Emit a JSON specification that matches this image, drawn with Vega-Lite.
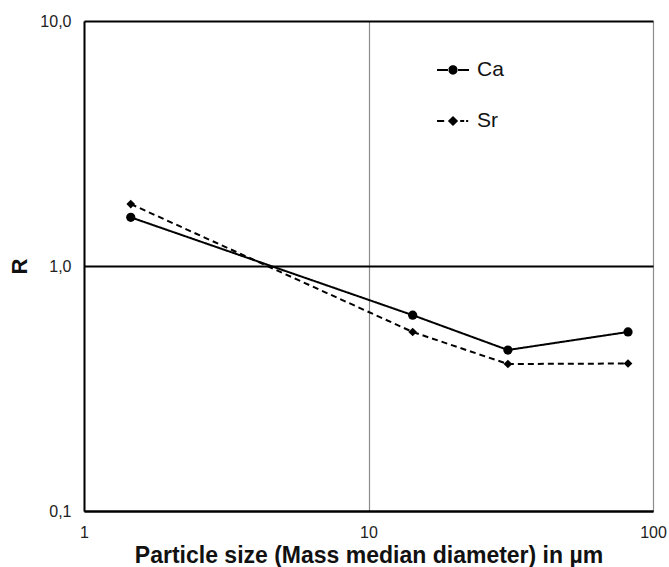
{
  "$schema": "https://vega.github.io/schema/vega-lite/v6.json",
  "width": 569,
  "height": 490,
  "autosize": {"type": "none"},
  "padding": {"left": 84, "top": 21, "right": 16, "bottom": 56},
  "background": "white",
  "config": {
    "font": "Liberation Sans",
    "view": {"stroke": null},
    "axis": {"ticks": false, "labelFont": "Liberation Sans", "labelColor": "#222", "titleFont": "Liberation Sans", "titleColor": "#111"},
    "legend": {"labelFont": "Liberation Sans", "labelColor": "#111"}
  },
  "data": {
    "values": [
      {"series": "Ca", "size": 1.46, "R": 1.58},
      {"series": "Ca", "size": 14.3, "R": 0.63},
      {"series": "Ca", "size": 30.9, "R": 0.454},
      {"series": "Ca", "size": 81.7, "R": 0.538},
      {"series": "Sr", "size": 1.46, "R": 1.79},
      {"series": "Sr", "size": 14.3, "R": 0.538},
      {"series": "Sr", "size": 30.9, "R": 0.398},
      {"series": "Sr", "size": 81.7, "R": 0.4}
    ]
  },
  "encoding": {
    "x": {
      "field": "size", "type": "quantitative",
      "scale": {"type": "log", "domain": [1, 100], "nice": false},
      "axis": {
        "values": [1, 10, 100], "grid": true, "gridColor": "#8c8c8c", "gridWidth": 1.2,
        "domainColor": "#000", "domainWidth": 2, "labelFontSize": 16, "labelPadding": 13,
        "labelFlush": false,
        "title": "Particle size (Mass median diameter) in µm", "titleFontSize": 23, "titleFontWeight": "bold", "titlePadding": 4
      }
    },
    "y": {
      "field": "R", "type": "quantitative",
      "scale": {"type": "log", "domain": [0.1, 10], "nice": false},
      "axis": {
        "values": [0.1, 1, 10], "grid": true, "gridColor": "#000", "gridWidth": 2,
        "domainColor": "#000", "domainWidth": 2, "labelFontSize": 16, "labelPadding": 13,
        "labelExpr": "replace(format(datum.value, '.1f'), '.', ',')",
        "title": "R", "titleFontSize": 22, "titleFontWeight": "bold", "titlePadding": 8
      }
    }
  },
  "layer": [
    {
      "mark": {"type": "line", "color": "#000", "strokeWidth": 2},
      "encoding": {
        "strokeDash": {
          "field": "series", "type": "nominal",
          "scale": {"domain": ["Ca", "Sr"], "range": [[1, 0], [6, 4]]},
          "legend": null
        }
      }
    },
    {
      "mark": {"type": "point", "filled": true, "color": "#000", "opacity": 1},
      "encoding": {
        "shape": {
          "field": "series", "type": "nominal",
          "scale": {"domain": ["Ca", "Sr"], "range": ["circle", "diamond"]},
          "legend": null
        },
        "size": {
          "field": "series", "type": "nominal",
          "scale": {"domain": ["Ca", "Sr"], "range": [85, 75]},
          "legend": null
        }
      }
    },
    {
      "mark": {"type": "point", "filled": true, "color": "#000", "opacity": 0, "size": 1024},
      "encoding": {
        "shape": {
          "field": "series", "type": "nominal", "title": null,
          "scale": {
            "domain": ["Ca", "Sr"],
            "range": [
              "M-1,-0.06L-0.25,-0.06L-0.25,0.06L-1,0.06ZM0.25,-0.06L1,-0.06L1,0.06L0.25,0.06ZM-0.29,0A0.29,0.29,0,1,0,0.29,0A0.29,0.29,0,1,0,-0.29,0Z",
              "M-1,-0.06L-0.55,-0.06L-0.55,0.06L-1,0.06ZM0,-0.32L0.32,0L0,0.32L-0.32,0ZM0.45,-0.06L0.7,-0.06L0.7,0.06L0.45,0.06ZM0.82,-0.06L0.95,-0.06L0.95,0.06L0.82,0.06Z"
            ]
          },
          "legend": {
            "orient": "none", "legendX": 353, "legendY": 33, "padding": 0,
            "symbolSize": 1024, "symbolStrokeColor": "transparent", "symbolFillColor": "#000",
            "symbolStrokeWidth": 0, "symbolOpacity": 1,
            "labelFontSize": 21, "labelOffset": 8, "rowPadding": 25,
            "encode": {
              "symbols": {
                "update": {
                  "fill": {"value": "#000"},
                  "opacity": {"value": 1},
                  "fillOpacity": {"value": 1}
                }
              }
            }
          }
        }
      }
    }
  ],
  "resolve": {"scale": {"shape": "independent", "size": "independent"}, "legend": {"shape": "independent"}}
}
